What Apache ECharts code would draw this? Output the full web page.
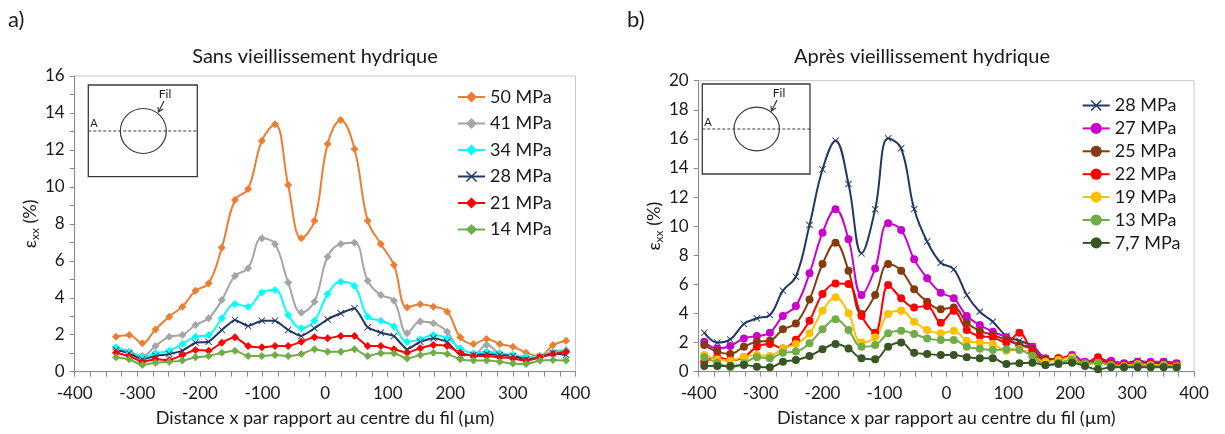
<!DOCTYPE html>
<html>
<head>
<meta charset="utf-8">
<script src="https://cdn.jsdelivr.net/npm/echarts@6/dist/echarts.min.js"></script>
<style>
html,body{margin:0;padding:0;background:#fff;}
#c{width:1225px;height:434px;}
</style>
</head>
<body>
<div id="c"></div>
<script>
// ---------- Data ----------
const xLeft = [-334,-313,-292,-271,-249,-228,-207,-186,-165,-144,-123,-101,-80,-59,-38,-17,4,25,47,68,89,110,131,152,173,195,216,237,258,279,300,321,343,364,385];
const left50 = [1.89,1.99,1.54,2.29,2.98,3.52,4.38,4.78,6.71,9.29,9.89,12.5,13.39,10.1,7.22,8.17,12.32,13.62,12.05,8.17,6.91,5.77,3.48,3.65,3.52,3.25,1.86,1.5,1.77,1.5,1.35,1.03,0.85,1.44,1.68];
const left41 = [1.21,1.08,0.85,1.39,1.89,1.99,2.53,2.89,3.88,5.18,5.6,7.22,6.91,4.82,3.19,3.79,6.22,6.91,6.98,4.92,4.15,3.84,2.08,2.71,2.62,2.16,1.08,0.9,1.44,1.0,0.9,0.78,0.85,1.08,1.17];
const left34 = [1.32,1.08,0.78,1.0,1.14,1.5,1.89,1.99,2.89,3.66,3.52,4.28,4.42,3.07,2.35,2.76,4.2,4.87,4.64,2.98,2.76,2.44,1.62,1.75,1.99,1.81,1.27,1.0,1.08,1.0,0.9,0.81,0.78,1.03,1.14];
const left28 = [1.17,1.0,0.67,0.85,0.96,1.14,1.57,1.62,2.26,2.8,2.47,2.76,2.76,2.26,1.93,2.35,2.83,3.16,3.43,2.4,2.11,1.93,1.21,1.62,1.81,1.62,0.9,0.9,0.96,0.9,0.85,0.67,0.78,1.0,0.9];
const left21 = [1.03,0.85,0.54,0.67,0.63,0.9,1.17,1.14,1.57,1.86,1.39,1.32,1.39,1.39,1.62,1.86,1.81,1.93,1.93,1.39,1.39,1.21,1.03,1.27,1.44,1.39,1.03,0.85,0.85,0.78,0.72,0.6,0.78,0.96,1.08];
const left14 = [0.78,0.67,0.36,0.49,0.54,0.6,0.78,0.85,1.03,1.14,0.85,0.85,0.9,0.85,0.96,1.21,1.08,1.08,1.21,0.85,1.0,1.0,0.72,0.9,1.03,0.96,0.67,0.6,0.6,0.54,0.45,0.42,0.6,0.63,0.6];

const xRight = [-391,-370,-349,-327,-306,-285,-264,-243,-221,-200,-179,-158,-137,-115,-94,-73,-52,-31,-9,12,33,54,75,97,118,139,160,181,203,224,245,266,287,309,330,351,372];
const right28 = [2.68,2.0,2.22,3.28,3.67,3.9,5.57,6.53,10.08,13.91,15.88,12.9,8.14,11.16,16.04,15.35,11.18,8.94,7.49,7.04,5.27,4.12,3.44,2.45,2.13,1.77,0.92,0.85,1.15,0.62,0.69,0.69,0.58,0.76,0.62,0.69,0.58];
const right27 = [2.06,1.6,1.77,2.29,2.45,2.68,3.83,4.52,6.76,9.55,11.16,9.1,5.27,7.1,10.2,9.74,7.72,6.42,5.43,5.04,3.83,3.21,2.75,2.36,1.83,1.72,0.92,0.8,1.15,0.69,0.8,0.76,0.58,0.69,0.69,0.69,0.58];
const right25 = [1.83,1.38,1.22,1.72,2.06,2.13,2.91,3.32,4.97,7.4,8.87,6.94,3.97,5.27,7.4,6.94,5.66,4.81,4.29,4.42,3.37,2.82,2.52,2.18,1.83,1.54,0.8,0.92,0.99,0.58,0.62,0.58,0.46,0.58,0.53,0.58,0.46];
const right22 = [0.69,0.99,0.8,0.99,1.72,1.9,1.6,2.2,3.51,5.34,6.07,6.03,3.83,2.68,5.96,5.04,4.42,4.52,3.37,4.19,2.87,2.45,2.36,2.0,2.68,1.38,0.69,0.92,1.03,0.58,0.99,0.53,0.46,0.58,0.53,0.46,0.46];
const right19 = [1.15,0.85,0.76,1.03,1.15,1.08,1.6,1.9,2.64,4.19,5.11,4.01,2.0,2.36,3.97,4.19,3.44,2.87,2.64,2.82,2.13,2.0,1.9,1.44,1.54,1.08,0.69,0.8,0.99,0.46,0.62,0.46,0.39,0.53,0.46,0.46,0.39];
const right13 = [0.99,0.62,0.3,0.58,0.99,0.92,1.31,1.38,1.95,2.91,3.6,2.87,1.72,1.83,2.64,2.82,2.59,2.29,2.18,2.18,1.72,1.58,1.49,1.54,1.49,1.08,0.46,0.62,0.8,0.58,0.62,0.46,0.3,0.46,0.39,0.39,0.3];
const right77 = [0.39,0.39,0.39,0.46,0.34,0.3,0.69,0.8,1.08,1.54,1.9,1.6,0.92,0.85,1.72,2.0,1.31,1.22,1.15,1.15,0.99,0.92,0.92,0.53,0.58,0.62,0.46,0.53,0.62,0.39,0.16,0.3,0.3,0.3,0.3,0.3,0.3];

const leftNames = ['50 MPa','41 MPa','34 MPa','28 MPa','21 MPa','14 MPa'];
const rightNames = ['28 MPa','27 MPa','25 MPa','22 MPa','19 MPa','13 MPa','7,7 MPa'];
const xTicks = [-400,-300,-200,-100,0,100,200,300,400];

// ---------- Styling ----------
const FONT = 'Lato, "Open Sans", sans-serif';
const AX = '#8c8c8c';
const TXT = '#1a1a1a';
const XMARK = 'path://M0,0.9L0.9,0L5,4.1L9.1,0L10,0.9L5.9,5L10,9.1L9.1,10L5,5.9L0.9,10L0,9.1L4.1,5Z';

function mk(name, xs, ys, color, symbol, size, smooth, xi) {
  return {
    name: name, type: 'line', xAxisIndex: xi, yAxisIndex: xi,
    data: xs.map((x, i) => [x, ys[i]]),
    smooth: smooth, symbol: symbol, symbolSize: size, showSymbol: true,
    lineStyle: {color: color, width: 2},
    itemStyle: {color: color, borderWidth: 0},
    animation: false, silent: true
  };
}

function xAxisCfg(gi) {
  return {
    type: 'value', gridIndex: gi, min: -400, max: 400, interval: 100,
    name: 'Distance x par rapport au centre du fil (µm)',
    nameLocation: 'middle', nameGap: 37,
    nameTextStyle: {fontFamily: FONT, fontSize: 18, color: TXT},
    axisLine: {onZero: false, lineStyle: {color: AX, width: 1}},
    axisTick: {show: true, length: 5, lineStyle: {color: AX}},
    minorTick: {show: true, splitNumber: 4, length: 5, lineStyle: {color: AX}},
    splitLine: {show: false},
    axisLabel: {fontFamily: FONT, fontSize: 17, color: TXT, margin: 13,
      formatter: v => xTicks.indexOf(v) >= 0 ? String(v) : ''}
  };
}
function yAxisCfg(gi, max, minor) {
  return {
    type: 'value', gridIndex: gi, min: 0, max: max, interval: 2,
    name: '{a|ε}{b|xx}{a| (%)}',
    nameLocation: 'middle', nameGap: 23, nameRotate: 90,
    nameTextStyle: {fontFamily: FONT, color: TXT,
      rich: {a: {fontFamily: FONT, fontSize: 18, color: TXT, lineHeight: 22},
             b: {fontFamily: FONT, fontSize: 12, color: TXT, lineHeight: 22, verticalAlign: 'bottom', padding: [7,0,0,0]}}},
    axisLine: {show: true, onZero: false, lineStyle: {color: AX, width: 1}},
    axisTick: {show: true, length: 5, lineStyle: {color: AX}},
    minorTick: {show: minor, splitNumber: 2, length: 5, lineStyle: {color: AX}},
    splitLine: {show: false},
    axisLabel: {fontFamily: FONT, fontSize: 17, color: TXT, margin: 10}
  };
}

function inset(x0, y0, x1, y1, cx, cy, rx, ry, ax, ay, fx, fy, a1, a2) {
  const s = {stroke: '#3a3a3a', lineWidth: 1.2};
  return [
    {type: 'rect', shape: {x: x0, y: y0, width: x1 - x0, height: y1 - y0}, style: {fill: '#fff', stroke: '#3a3a3a', lineWidth: 1.3}, z: 100},
    {type: 'ellipse', shape: {cx: cx, cy: cy, rx: rx, ry: ry}, style: {fill: 'none', stroke: '#3a3a3a', lineWidth: 1.2}, z: 101},
    {type: 'line', shape: {x1: x0, y1: cy, x2: x1, y2: cy}, style: {stroke: '#3a3a3a', lineWidth: 1, lineDash: [3, 2]}, z: 102},
    {type: 'text', x: ax, y: ay, style: {text: 'A', fontFamily: FONT, fontSize: 11, fill: '#222', align: 'center', verticalAlign: 'middle'}, z: 102},
    {type: 'text', x: fx, y: fy, style: {text: 'Fil', fontFamily: FONT, fontSize: 12, fill: '#222', align: 'center', verticalAlign: 'middle'}, z: 102},
    {type: 'line', shape: {x1: a1[0], y1: a1[1], x2: a2[0], y2: a2[1]}, style: s, z: 102},
    {type: 'polyline', shape: {points: [[a2[0] - 0.5, a2[1] - 5], a2, [a2[0] + 4.5, a2[1] - 3]]}, style: {stroke: '#3a3a3a', lineWidth: 1.2, fill: 'none'}, z: 102}
  ];
}

const series = [
  mk(leftNames[0], xLeft, left50, '#ED7D31', 'diamond', 8, 0.4, 0),
  mk(leftNames[1], xLeft, left41, '#A5A5A5', 'diamond', 8, 0.4, 0),
  mk(leftNames[2], xLeft, left34, '#00FFFF', 'diamond', 8, 0.4, 0),
  mk(leftNames[3], xLeft, left28, '#1F3864', XMARK, 7, 0.15, 0),
  mk(leftNames[4], xLeft, left21, '#FF0000', 'diamond', 8, 0.15, 0),
  mk(leftNames[5], xLeft, left14, '#70AD47', 'diamond', 8, 0.15, 0),
  mk(rightNames[0], xRight, right28, '#1F3864', XMARK, 7, 0.4, 1),
  mk(rightNames[1], xRight, right27, '#CC00CC', 'circle', 8, 0.4, 1),
  mk(rightNames[2], xRight, right25, '#843C0C', 'circle', 8, 0.4, 1),
  mk(rightNames[3], xRight, right22, '#FF0000', 'circle', 8, 0.35, 1),
  mk(rightNames[4], xRight, right19, '#FFC000', 'circle', 8, 0.4, 1),
  mk(rightNames[5], xRight, right13, '#70AD47', 'circle', 8, 0.4, 1),
  mk(rightNames[6], xRight, right77, '#375623', 'circle', 8, 0.4, 1)
];

const legendText = {fontFamily: FONT, fontSize: 18, color: TXT, lineHeight: 18};
const option = {
  animation: false,
  backgroundColor: '#fff',
  grid: [
    {left: 74.7, right: 649.5, top: 76, bottom: 62.3, show: true, borderColor: '#c8c8c8', borderWidth: 1, backgroundColor: 'transparent'},
    {left: 698.7, right: 31, top: 80.7, bottom: 62.3, show: true, borderColor: '#c8c8c8', borderWidth: 1, backgroundColor: 'transparent'}
  ],
  xAxis: [xAxisCfg(0), xAxisCfg(1)],
  yAxis: [yAxisCfg(0, 16, true), yAxisCfg(1, 20, false)],
  legend: [
    {data: leftNames, orient: 'vertical', left: 452, top: 83, padding: 5, itemWidth: 27, itemHeight: 14, itemGap: 8.5, textStyle: legendText, selectedMode: false, itemStyle: {borderWidth: 0}},
    {data: rightNames, orient: 'vertical', left: 1076.7, top: 91.5, padding: 5, itemWidth: 27, itemHeight: 14, itemGap: 4.9, textStyle: legendText, selectedMode: false, itemStyle: {borderWidth: 0}}
  ],
  graphic: [
    {type: 'text', x: 8, y: 20, style: {text: 'a)', fontFamily: FONT, fontSize: 22, fill: TXT, verticalAlign: 'middle'}},
    {type: 'text', x: 627, y: 20, style: {text: 'b)', fontFamily: FONT, fontSize: 22, fill: TXT, verticalAlign: 'middle'}},
    {type: 'text', x: 315, y: 57, style: {text: 'Sans vieillissement hydrique', fontFamily: FONT, fontSize: 20, fill: TXT, align: 'center', verticalAlign: 'middle'}},
    {type: 'text', x: 922, y: 57, style: {text: 'Après vieillissement hydrique', fontFamily: FONT, fontSize: 20, fill: TXT, align: 'center', verticalAlign: 'middle'}}
  ].concat(
    inset(88.3, 85, 197.3, 176.7, 143.3, 131, 23, 22.5, 94, 123, 165, 94, [164, 101], [158.5, 112]),
    inset(702.3, 84, 810, 174, 756.7, 129, 22.7, 21.8, 708, 122, 779, 92.7, [777, 100], [771.5, 111])
  ),
  series: series
};

const chart = echarts.init(document.getElementById('c'), null, {renderer: 'canvas'});
chart.setOption(option);
</script>
</body>
</html>
